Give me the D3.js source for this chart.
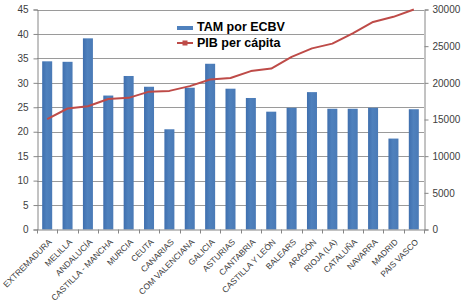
<!DOCTYPE html>
<html lang="en">
  <head>
    <meta charset="utf-8">
    <title>TAM por ECBV vs PIB per capita</title>
    <style>
      body { margin: 0; background: #fff; }
    </style>
  </head>
  <body>
    <div id="chart-area"></div>
    <script src="https://cdn.jsdelivr.net/npm/d3@7"></script>
    <script>
      const regions = ['EXTREMADURA', 'MELILLA', 'ANDALUCÍA', 'CASTILLA - MANCHA', 'MURCIA', 'CEUTA',
        'CANARIAS', 'COM VALENCIANA', 'GALICIA', 'ASTURIAS', 'CANTABRIA', 'CASTILLA Y LEÓN',
        'BALEARS', 'ARAGÓN', 'RIOJA (LA)', 'CATALUÑA', 'NAVARRA', 'MADRID', 'PAIS VASCO'];
      const tam = [34.4, 34.3, 39.1, 27.4, 31.4, 29.2, 20.5, 29.0, 33.9, 28.8, 26.9, 24.1,
        24.9, 28.1, 24.7, 24.7, 24.9, 18.6, 24.6];
      const pib = [15050, 16500, 16800, 17800, 17950, 18800, 18900, 19550, 20450, 20650,
        21600, 21950, 23550, 24700, 25350, 26750, 28300, 29000, 30000];
      const left_ticks = [0, 5, 10, 15, 20, 25, 30, 35, 40, 45];
      const right_ticks = [0, 5000, 10000, 15000, 20000, 25000, 30000];

      const svg_width = 463;
      const svg_height = 304;
      const plot = { left: 37, right: 424, top: 9.5, bottom: 229.5 };
      const font = 'Liberation Sans, Arial, sans-serif';
      const axis_color = '#868686';

      const svg = d3.select('#chart-area')
        .append('svg')
        .attr('width', svg_width)
        .attr('height', svg_height)
        .style('display', 'block');

      const defs = svg.append('defs');
      const grad = defs.append('linearGradient')
        .attr('id', 'bar-grad')
        .attr('x1', 0).attr('x2', 1).attr('y1', 0).attr('y2', 0);
      grad.append('stop').attr('offset', '0%').attr('stop-color', '#3f6fae');
      grad.append('stop').attr('offset', '45%').attr('stop-color', '#4f81bd');
      grad.append('stop').attr('offset', '100%').attr('stop-color', '#4a7ab6');

      const x_scale = d3.scalePoint()
        .domain(regions)
        .range([plot.left, plot.right])
        .padding(0.5);

      const band_step = x_scale.step();

      const y_left = d3.scaleLinear().domain([0, 45]).range([plot.bottom, plot.top]);
      const y_right = d3.scaleLinear().domain([0, 30000]).range([plot.bottom, plot.top]);

      // gridlines
      svg.append('g')
        .selectAll('line').data(left_ticks.filter(d => d > 0)).enter()
        .append('line')
        .attr('x1', plot.left).attr('x2', plot.right)
        .attr('y1', d => Math.round(y_left(d)) + 0.5)
        .attr('y2', d => Math.round(y_left(d)) + 0.5)
        .attr('stroke', '#9a9a9a')
        .attr('stroke-width', 1);

      // bars
      svg.append('g')
        .selectAll('rect').data(regions).enter()
        .append('rect')
        .attr('x', d => x_scale(d) - 5)
        .attr('width', 10)
        .attr('y', (d, i) => y_left(tam[i]))
        .attr('height', (d, i) => plot.bottom - y_left(tam[i]))
        .attr('fill', 'url(#bar-grad)');

      // line
      const line = d3.line()
        .x((d, i) => x_scale(regions[i]))
        .y(d => y_right(d));

      svg.append('path')
        .datum(pib)
        .attr('d', line)
        .attr('fill', 'none')
        .attr('stroke', '#be4b48')
        .attr('stroke-width', 2)
        .attr('stroke-linejoin', 'round');

      // left axis
      const left_axis = svg.append('g')
        .attr('transform', `translate(${plot.left + 0.5},0)`)
        .call(d3.axisLeft(y_left).tickValues(left_ticks).tickSize(4).tickPadding(5));
      left_axis.select('.domain').attr('stroke', axis_color);
      left_axis.selectAll('.tick line').attr('stroke', axis_color);
      left_axis.selectAll('text')
        .attr('font-family', font).attr('font-size', '10px').attr('fill', '#404040');

      // right axis
      const right_axis = svg.append('g')
        .attr('transform', `translate(${plot.right + 0.5},0)`)
        .call(d3.axisRight(y_right).tickValues(right_ticks).tickSize(4).tickPadding(4).tickFormat(d3.format('d')));
      right_axis.select('.domain').attr('stroke', axis_color);
      right_axis.selectAll('.tick line').attr('stroke', axis_color);
      right_axis.selectAll('text')
        .attr('font-family', font).attr('font-size', '10px').attr('fill', '#404040');

      // bottom axis line and ticks between categories
      svg.append('line')
        .attr('x1', plot.left).attr('x2', plot.right)
        .attr('y1', plot.bottom + 0.5).attr('y2', plot.bottom + 0.5)
        .attr('stroke', axis_color);
      svg.append('g')
        .selectAll('line').data(d3.range(regions.length + 1)).enter()
        .append('line')
        .attr('x1', i => Math.round(plot.left + band_step * i) + 0.5)
        .attr('x2', i => Math.round(plot.left + band_step * i) + 0.5)
        .attr('y1', plot.bottom)
        .attr('y2', plot.bottom + 4)
        .attr('stroke', axis_color);

      // category labels
      svg.append('g')
        .selectAll('text').data(regions).enter()
        .append('text')
        .text(d => d)
        .attr('transform', d => `translate(${x_scale(d) + 3},${plot.bottom + 11}) rotate(-45)`)
        .attr('text-anchor', 'end')
        .attr('dy', '0.35em')
        .attr('font-family', font)
        .attr('font-size', '8.4px')
        .attr('fill', '#404040');

      // legend
      const legend = svg.append('g').attr('transform', 'translate(177,0)');
      legend.append('rect')
        .attr('x', 0).attr('y', 26).attr('width', 16).attr('height', 4)
        .attr('fill', '#4f81bd');
      legend.append('text')
        .text('TAM por ECBV')
        .attr('x', 20).attr('y', 31)
        .attr('font-family', font).attr('font-size', '12.5px').attr('font-weight', 'bold')
        .attr('fill', '#000');
      legend.append('line')
        .attr('x1', 0).attr('x2', 16).attr('y1', 43).attr('y2', 43)
        .attr('stroke', '#be4b48').attr('stroke-width', 2);
      legend.append('rect')
        .attr('x', 5.5).attr('y', 40.5).attr('width', 5).attr('height', 5)
        .attr('fill', '#be4b48');
      legend.append('text')
        .text('PIB per cápita')
        .attr('x', 20).attr('y', 47)
        .attr('font-family', font).attr('font-size', '12.5px').attr('font-weight', 'bold')
        .attr('fill', '#000');
    </script>
  </body>
</html>
